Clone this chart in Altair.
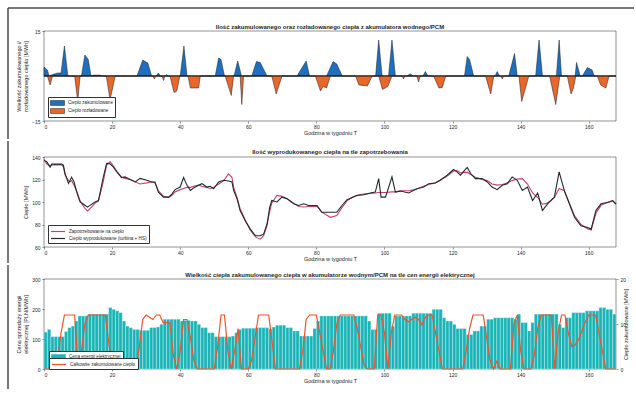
import altair as alt
import pandas as pd

FONT = "Liberation Sans"
TXT = "#262626"
BLUE = "#1f6fc0"
ORANGE = "#e8672a"
TEAL = "#1bb5b8"
RED = "#f0522a"
PURPLE = "#c2407a"
DARK = "#1f2a22"

hour_ticks = [0, 20, 40, 60, 80, 100, 120, 140, 160]

title1 = "Ilość zakumulowanego oraz rozładowanego ciepła z akumulatora wodnego/PCM"
title2 = "Ilość wyprodukowanego ciepła na tle zapotrzebowania"
title3 = "Wielkość ciepła zakumulowanego ciepła w akumulatorze wodnym/PCM na tle cen energii elektrycznej"

# ---------- panel 1: accumulated / discharged heat ----------
lab_acc = "Ciepło zakumulowane"
lab_dis = "Ciepło rozładowane"
acc_h = [0, 1, 1.5, 2.5, 4, 5, 6, 7, 11, 12, 13, 13.8, 14.5, 16.5, 17, 27.3, 29, 30.5, 31.6, 33,
         33.6, 34.2, 35.6, 36, 36.4, 40, 41.1, 42, 50.3, 51.3, 52, 53, 55.8, 56.9, 58, 61, 62.4, 63.5, 65.5, 74.3,
         77, 78, 83, 84.9, 86, 87.6, 97.4, 98.3, 99.3, 101.2, 102.2, 103.2, 106.5, 107.6, 108.5, 111.3, 112, 112.8, 123.5, 124.3,
         125, 126.2, 132.5, 133.1, 133.8, 136.5, 138.2, 139, 144.4, 145.4, 146.4, 150.5, 151.3, 152, 156, 156.4, 157.5, 158.1, 159.6, 161,
         161.6, 168]
acc_v = [3, 2, 0, 0.5, 1, 1, 10, 0, 0, 7, 5.5, 0, 0.3, 0.3, 0, 0, 5.3, 4.3, 0, 0,
         1, 0, 0, 0.5, 0, 0, 10, 0, 0, 6, 5.5, 0, 0, 5, 0, 0, 4.8, 4.5, 0, 0,
         5, 0, 0, 4.8, 4, 0, 0, 12, 0, 0, 12, 0, 0, 0.7, 0, 0, 1.5, 0, 0, 6.5,
         5.5, 0, 0, 1.5, 0, 0, 7.5, 0, 0, 12, 0, 0, 12, 0, 0, 4.5, 0, 0, 2.8, 2,
         0, 0]
dis_h = [0, 1, 1.8, 2.5, 9, 9.9, 10.6, 18.3, 19.4, 20.9, 32, 32.4, 32.9, 34.7, 35.1, 35.5,
         37, 38.2, 39, 39.9, 42.3, 43, 45.4, 45.9, 53.2, 55, 55.7, 57.6, 58.1, 58.6, 66.9, 68.2, 69.9,
         79.7, 81.2, 82, 83, 84.1, 91.5, 92.5, 95, 96.4, 98.3, 99.4, 101, 102.2, 105.2, 105.6, 106,
         109.5, 110, 110.5, 114.4, 116, 117, 118, 129.7, 131.2, 132.1, 134.2, 134.6, 135, 139.5, 140.3, 142.4,
         148.5, 150.3, 151.5, 153.7, 154.8, 155.5, 156.2, 162.5, 163.5, 165, 166, 168]
dis_v = [0, 0, -3, 0, 0, -8.5, 0, 0, -8, 0, 0, -1, 0, 0, -1.5, 0,
         0, -5.5, -5, 0, 0, -4, -4, 0, 0, -6.5, 0, 0, -9.5, 0, 0, -6, 0,
         0, -5, -3.5, -4, 0, 0, -3, -3.3, 0, 0, -4.5, -3.5, 0, 0, -1, 0,
         0, -2, 0, 0, -4, -3.8, 0, 0, -6, 0, 0, -1, 0, 0, -8.5, 0,
         0, -9.5, 0, 0, -6, -4, 0, 0, -3, -4, 0, 0]

# ---------- panel 2: produced heat vs demand ----------
lab_dem = "Zapotrzebowanie na ciepło"
lab_prod = "Ciepło wyprodukowane (turbina + HS)"
p2_h = [0, 0.8, 1.8, 2.3, 5.2, 5.7, 6.2, 7.2, 7.6, 8.1,
        8.8, 9.8, 10.6, 11.4, 12.1, 12.8, 13.5, 15, 16, 17.4,
        18.4, 19.4, 20.4, 21.4, 22.8, 23.8, 25.3, 26.8, 28.2, 30.2,
        31.6, 32.6, 33.6, 35.1, 36.6, 37.6, 38.5, 40, 41, 42,
        43, 43.9, 45.4, 46.4, 47.8, 48.8, 49.8, 51.3, 52.8, 54.2,
        55.2, 55.7, 56.7, 57.6, 59.1, 60.6, 62.1, 63.5, 64.5, 65.5,
        66.3, 66.9, 68.4, 69.9, 71.4, 73.3, 74.8, 76.3, 77.7, 79.2,
        80.2, 81.6, 84.1, 86, 87.5, 89, 90.4, 91.9, 93.9, 95.8,
        97.3, 98.3, 99, 100.3, 102.2, 103.2, 104.7, 107.1, 109.5, 111.5,
        113, 114.9, 116.4, 118.4, 120.3, 121.3, 122.3, 124.3, 125.3, 126.7,
        128.7, 130.2, 131.6, 133.1, 134.6, 136.1, 137.5, 139, 140.5, 142,
        143.5, 145, 146.4, 147.9, 149.9, 151.3, 152.8, 154.3, 155.8, 157.7,
        159.7, 160.7, 162.1, 163.6, 166.1, 167, 168]
produced = [137, 135.8, 131, 133.7, 133.7, 132.8, 125, 116.5, 119, 122,
            118, 107, 100, 98.4, 96.9, 95.4, 97, 100, 101.3, 122,
            134.3, 134, 131, 126.8, 121.7, 122.3, 120, 117.8, 121, 119.3,
            117.8, 117.8, 108.8, 104.3, 104.3, 107.3, 111, 113.3, 121.7, 114.8,
            110.3, 112.4, 114.8, 116.3, 113.3, 114, 111.8, 117.8, 119.3, 118.7,
            117.8, 110.3, 102.8, 92.4, 83.4, 75.9, 70, 70, 71.4, 80.4,
            95.4, 101.3, 100, 104.3, 102.8, 98.4, 96.9, 98.4, 96.9, 96.9,
            96.9, 90.9, 90.9, 90.9, 96.9, 102, 103.8, 105.8, 106.4, 108,
            108.8, 120.8, 104.3, 104.3, 122.3, 108.8, 109.7, 108, 111.8, 113.3,
            116.3, 116.9, 119.3, 123.8, 128.9, 126.8, 123.8, 130.7, 125.3, 120.8,
            120.8, 117.8, 113.3, 111, 114.8, 116.3, 122.3, 119.3, 110.3, 113.3,
            101.3, 108, 92.4, 98.4, 104.3, 126.8, 110.3, 98.4, 86.4, 78.9,
            77.4, 75.9, 92.4, 98.4, 100, 101.3, 98.4]
demand = [138, 134, 132, 133, 133, 131, 124, 119, 118, 119,
          115, 108, 101, 97, 94, 92, 94, 99, 101, 118,
          133, 136, 132, 127, 122, 121, 120, 118, 116, 117,
          118, 117, 110, 105, 104, 106, 109, 111, 112, 113,
          113, 114, 115, 114, 113, 112, 113, 116, 119, 125,
          122, 113, 104, 94, 84, 75, 69, 67, 70, 79,
          92, 99, 105.8, 105, 103, 99, 96, 95.5, 96, 96,
          96, 91, 86.4, 88, 95, 101, 104, 106, 107, 107.5,
          108, 108.5, 108.5, 108.5, 109, 109, 110, 110, 111.5, 114,
          115.5, 117, 119.5, 123, 127.5, 128, 126, 126.5, 124.5, 122,
          120, 119, 116, 115, 115.5, 117, 119, 120.5, 120.8, 116,
          108, 104, 98, 99, 104, 112, 110, 99, 88, 80,
          76, 75, 90, 97, 100.5, 101, 98]

# ---------- panel 3: electricity price and stored heat ----------
lab_price = "Cena energii elektrycznej"
lab_stored = "Całkowite zakumulowane ciepło"
bar_hours = list(range(168))
price = [123, 132, 108, 108, 108, 108, 125, 138, 143, 160,
         177, 177, 177, 183, 183, 183, 183, 183, 183, 205,
         199, 194, 188, 160, 143, 138, 132, 132, 129, 129,
         129, 138, 138, 140, 149, 166, 166, 166, 166, 166,
         160, 162, 162, 160, 160, 149, 138, 138, 121, 121,
         108, 108, 108, 108, 108, 110, 121, 132, 136, 136,
         136, 136, 138, 138, 138, 138, 134, 140, 146, 146,
         146, 138, 138, 127, 127, 110, 110, 110, 110, 135,
         160, 177, 177, 177, 177, 177, 177, 177, 177, 177,
         177, 177, 177, 177, 177, 160, 132, 132, 186, 186,
         186, 186, 143, 177, 177, 177, 177, 177, 186, 186,
         186, 186, 186, 186, 199, 199, 199, 171, 160, 160,
         149, 135, 135, 135, 115, 115, 127, 127, 143, 143,
         166, 166, 171, 171, 171, 171, 171, 171, 166, 183,
         155, 155, 127, 155, 183, 183, 183, 183, 183, 183,
         183, 149, 138, 171, 171, 188, 188, 188, 188, 194,
         194, 194, 194, 205, 205, 199, 199, 183]
line_hours = list(range(169))
stored = [0, 0, 0, 0, 2, 8, 12, 12, 12, 12,
          0, 4, 10, 12, 12, 12, 12, 12, 12, 6,
          0, 0, 0, 0, 0, 0, 0, 0, 5, 11,
          12, 11.5, 11, 12, 12, 10.3, 10.3, 10.2, 3, 0,
          4, 11, 11, 7, 2, 0, 0, 0, 0, 0,
          0, 5, 12, 12, 4, 0, 4, 9, 0, 0,
          0, 2, 7, 12, 12, 12, 12, 6, 0, 0,
          0, 0, 0, 0, 0, 0, 4, 11, 12, 12,
          12, 8, 4, 0, 0, 4, 10, 12, 12, 12,
          12, 12, 9, 5, 1, 0, 0, 0, 12, 12,
          8, 0, 8, 12, 12, 12, 11, 10.5, 11, 11.5,
          11, 9.8, 11.5, 12, 12, 8, 4, 0, 0, 0,
          0, 0, 0, 0, 4, 9, 12, 12, 12, 12,
          7, 2, 0, 1.7, 0, 0, 0, 0, 10, 12,
          4, 0, 0, 0, 3, 9, 12, 12, 12, 12,
          0, 8, 12, 12, 8, 5, 5.4, 6.5, 8.5, 10.5,
          12, 12, 12, 8, 4, 0, 0, 0, 0]

W, H = 572, 90
x_scale = alt.Scale(domain=[0, 168], nice=False, zero=False)
RECT_SYM = "M-1,-0.7H3V0.7H-1Z"
LINE_SYM = "M-1,0H3"


def one(tag):
    return pd.DataFrame({"k": [tag]})


def x_axis():
    return alt.Axis(title="Godzina w tygodniu T", values=hour_ticks, labelPadding=1, titlePadding=1)


def vline(top, bottom, tag, color):
    return alt.Chart(one(tag)).mark_rule(color=color, strokeWidth=1.5).encode(
        x=alt.value(-36), x2=alt.value(-36), y=alt.value(top), y2=alt.value(bottom))


def hline(y, x1, x2, tag, color):
    return alt.Chart(one(tag)).mark_rule(color=color, strokeWidth=1.5).encode(
        x=alt.value(x1), x2=alt.value(x2), y=alt.value(y), y2=alt.value(y))


def ptitle(t, dy):
    return alt.Chart(one(t)).mark_text(fontSize=6, fontWeight="bold", font=FONT, color=TXT,
                                       align="center", baseline="alphabetic").encode(
        x=alt.value(W / 2), y=alt.value(dy), text=alt.value(t))


def legend(symbol, **kw):
    base = dict(title=None, fillColor="white", strokeColor="#333333", padding=2,
                labelFontSize=4.6, labelFont=FONT, labelColor=TXT, symbolType=symbol,
                symbolSize=49, rowPadding=0, labelOffset=10)
    base.update(kw)
    return alt.Legend(**base)


# panel 1
df1 = pd.DataFrame({
    "h": acc_h + dis_h,
    "v": acc_v + dis_v,
    "s": [lab_acc] * len(acc_h) + [lab_dis] * len(dis_h),
})
area1 = alt.Chart(df1).mark_area(stroke="#1a1a1a", strokeWidth=0.5, interpolate="linear").encode(
    x=alt.X("h:Q", scale=x_scale, axis=x_axis()),
    y=alt.Y("v:Q", stack=None, scale=alt.Scale(domain=[-15, 15], nice=False),
            axis=alt.Axis(values=[-15, -10, -5, 0, 5, 10, 15],
                          title=["Wielkość zakumulowanego i/", "rozładowanego ciepła [MWh]"],
                          titlePadding=3)),
    color=alt.Color("s:N", scale=alt.Scale(domain=[lab_acc, lab_dis], range=[BLUE, ORANGE]),
                    legend=legend(RECT_SYM, orient="bottom-left", offset=4,
                                  symbolStrokeColor="#1a1a1a", symbolStrokeWidth=0.5)),
)
zero1 = alt.Chart(pd.DataFrame({"z": [0]})).mark_rule(color="#111111", strokeWidth=0.7).encode(y="z:Q")
p1 = alt.layer(area1, zero1, ptitle(title1, -2), vline(-23, 108, "v1", "#4a4a4a"),
               hline(-23, -36, 590, "h1", "#4b4a4a")).properties(width=W, height=H)

# panel 2
df2 = pd.DataFrame({
    "h": p2_h + p2_h,
    "v": demand + produced,
    "s": [lab_dem] * len(p2_h) + [lab_prod] * len(p2_h),
})
lines2 = alt.Chart(df2).mark_line(strokeWidth=1.1).encode(
    x=alt.X("h:Q", scale=x_scale, axis=x_axis()),
    y=alt.Y("v:Q", scale=alt.Scale(domain=[60, 140], nice=False),
            axis=alt.Axis(values=[60, 80, 100, 120, 140], title="Ciepło [MWh]", titlePadding=3)),
    color=alt.Color("s:N", scale=alt.Scale(domain=[lab_dem, lab_prod], range=[PURPLE, DARK]),
                    legend=legend(LINE_SYM, orient="bottom-left", offset=4, symbolStrokeWidth=1.2)),
    order=alt.Order("h:Q"),
)
p2 = alt.layer(lines2, ptitle(title2, -3), vline(-16, 106, "v2", "#4a4b4a")).properties(width=W, height=H)

# panel 3
df3b = pd.DataFrame({
    "h": bar_hours,
    "h2": [h + 1 for h in bar_hours],
    "p": price,
    "s": [lab_price] * len(bar_hours),
})
df3l = pd.DataFrame({"h": line_hours, "q": stored, "s": [lab_stored] * len(line_hours)})
bars3 = alt.Chart(df3b).mark_bar(stroke="white", strokeWidth=0.3).encode(
    x=alt.X("h:Q", scale=x_scale, axis=x_axis()),
    x2="h2:Q",
    y=alt.Y("p:Q", scale=alt.Scale(domain=[0, 300], nice=False),
            axis=alt.Axis(orient="left", values=[0, 100, 200, 300],
                          title=["Cena sprzedaży energii", "elektrycznej [PLN/MWh]"], titlePadding=3)),
    y2=alt.datum(0),
    fill=alt.Fill("s:N", scale=alt.Scale(domain=[lab_price], range=[TEAL]),
                  legend=legend(RECT_SYM, orient="none", legendX=5, legendY=72,
                                symbolStrokeColor=TEAL, symbolStrokeWidth=0.5)),
)
line3 = alt.Chart(df3l).mark_line(strokeWidth=1.2).encode(
    x=alt.X("h:Q", scale=x_scale),
    y=alt.Y("q:Q", scale=alt.Scale(domain=[0, 20], nice=False),
            axis=alt.Axis(orient="right", values=[0, 10, 20], title="Ciepło zakumulowane [MWh]",
                          titleAngle=270, titlePadding=3)),
    stroke=alt.Stroke("s:N", scale=alt.Scale(domain=[lab_stored], range=[RED]),
                      legend=legend(LINE_SYM, orient="none", legendX=5, legendY=79,
                                    symbolStrokeWidth=1.2)),
)
p3 = alt.layer(bars3, line3, ptitle(title3, -2), vline(-14, 110, "v3", "#4a4a4b")).resolve_scale(
    y="independent", fill="independent", stroke="independent").properties(width=W, height=H)

chart = alt.vconcat(p1, p2, p3, spacing=0).resolve_scale(
    color="independent", fill="independent", stroke="independent"
).resolve_legend(
    color="independent", fill="independent", stroke="independent"
).properties(
    padding={"left": 7, "top": 7, "right": 0, "bottom": 0}
).configure(
    font=FONT, background="white"
).configure_view(
    stroke=TXT, strokeWidth=0.5
).configure_axis(
    labelFont=FONT, titleFont=FONT, labelFontSize=5, titleFontSize=5.5, titleFontWeight="normal",
    labelColor=TXT, titleColor=TXT, tickColor=TXT, tickSize=2, tickWidth=0.5,
    grid=False, domain=False
)

chart.save("out.html", embed_options={"renderer": "svg", "actions": False})
